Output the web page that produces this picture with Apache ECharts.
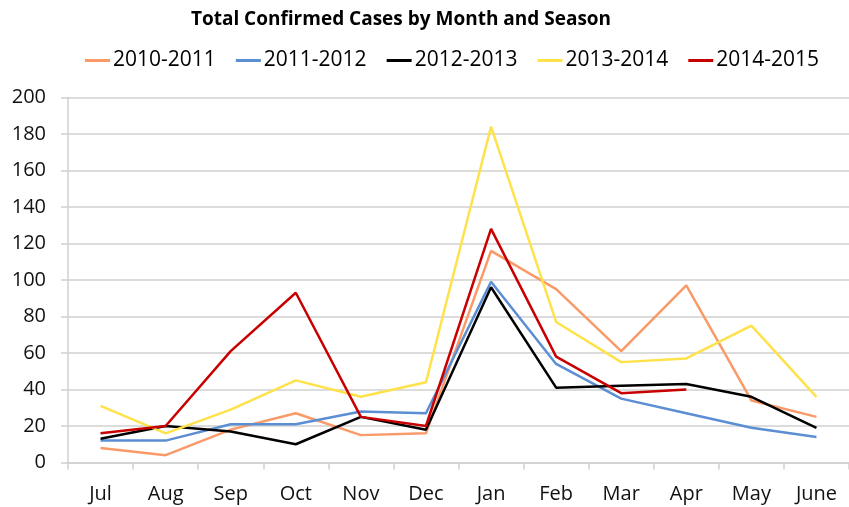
<!DOCTYPE html>
<html>
<head>
<meta charset="utf-8">
<script src="https://cdn.jsdelivr.net/npm/echarts@6/dist/echarts.min.js"></script>
<style>html,body{margin:0;padding:0;background:#fff}#c{width:849px;height:507px}</style>
</head>
<body>
<div id="c"></div>
<script>
const months = ['Jul','Aug','Sep','Oct','Nov','Dec','Jan','Feb','Mar','Apr','May','June'];
const s2010_2011 = [8, 4, 18, 27, 15, 16, 116, 95, 61, 97, 34, 25];
const s2011_2012 = [12, 12, 21, 21, 28, 27, 99, 54, 35, 27, 19, 14];
const s2012_2013 = [13, 20, 17, 10, 25, 18, 96, 41, 42, 43, 36, 19];
const s2013_2014 = [31, 16, 29, 45, 36, 44, 184, 77, 55, 57, 75, 36];
const s2014_2015 = [16, 20, 61, 93, 25, 20, 128, 58, 38, 40, null, null];
const seriesNames = ['2010-2011','2011-2012','2012-2013','2013-2014','2014-2015'];
const seriesColors = ['#F99A68','#5B8ED2','#000000','#FFE24A','#C80000'];
const allData = [s2010_2011, s2011_2012, s2012_2013, s2013_2014, s2014_2015];

const FONT = 'Open Sans';
const chart = echarts.init(document.getElementById('c'));
chart.setOption({
  animation: false,
  backgroundColor: '#ffffff',
  title: {
    text: 'Total Confirmed Cases by Month and Season',
    left: 396, top: 5, textAlign: 'center',
    textStyle: {fontFamily: FONT, fontWeight: 'bold', fontSize: 19, color: '#000'}
  },
  legend: {
    left: 80, top: 45,
    icon: 'rect', itemWidth: 25, itemHeight: 3, itemGap: 20,
    textStyle: {fontFamily: FONT, fontSize: 21, color: '#000', padding: [0,0,0,-2]},
    data: seriesNames
  },
  grid: {left: 68, right: -7, top: 97.5, bottom: 44.5, containLabel: false},
  xAxis: {
    type: 'category', data: months, boundaryGap: true,
    axisLine: {show: true, lineStyle: {color: '#D0D0D0', width: 1.5}},
    axisTick: {show: true, length: 7, lineStyle: {color: '#D0D0D0', width: 1.5}},
    axisLabel: {fontFamily: FONT, fontSize: 20, color: '#111', margin: 22},
    splitLine: {show: false}
  },
  yAxis: {
    type: 'value', min: 0, max: 200, interval: 20,
    axisLine: {show: true, lineStyle: {color: '#D0D0D0', width: 1.5}},
    axisTick: {show: true, length: 7, lineStyle: {color: '#D0D0D0', width: 1.5}},
    axisLabel: {fontFamily: FONT, fontSize: 20, color: '#111', margin: 22},
    splitLine: {show: true, lineStyle: {color: '#D0D0D0', width: 1.5}}
  },
  series: allData.map((d, i) => ({
    name: seriesNames[i], type: 'line', data: d,
    symbol: 'none', showSymbol: false,
    lineStyle: {color: seriesColors[i], width: 2.5},
    itemStyle: {color: seriesColors[i]},
    connectNulls: false
  }))
});
</script>
</body>
</html>
